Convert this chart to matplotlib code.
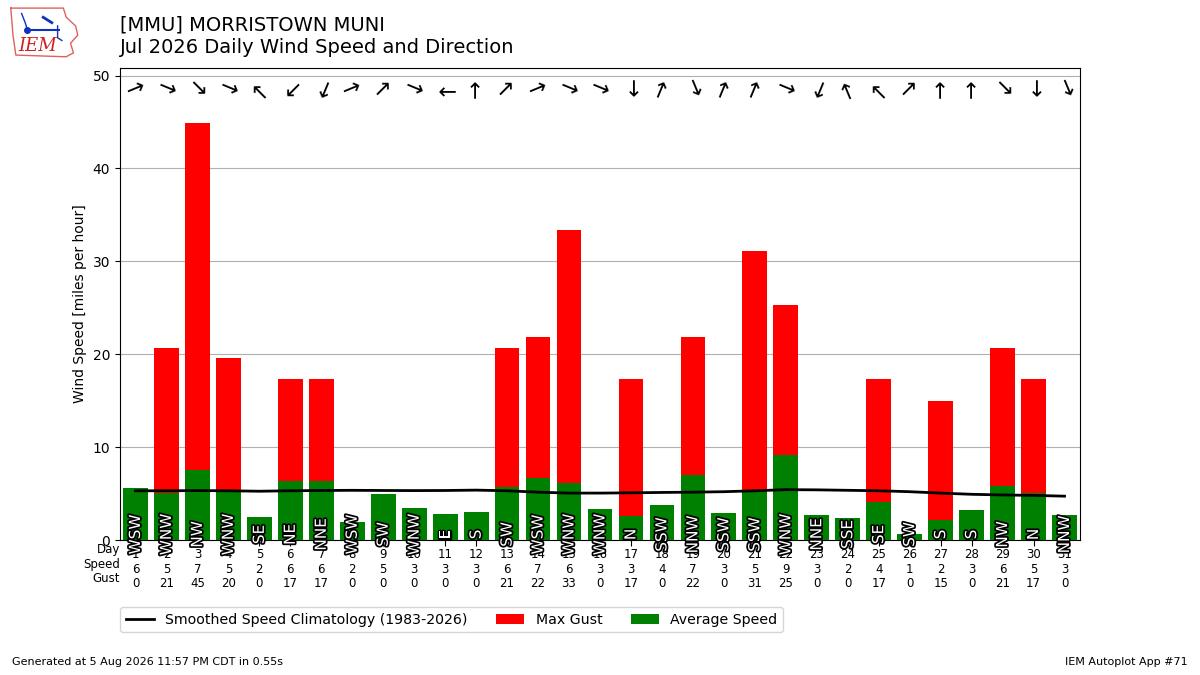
import matplotlib
matplotlib.use("Agg")
from matplotlib import pyplot as plt
from matplotlib import patheffects
import numpy as np

# daily values for July 2026 at MMU
days = list(range(1, 32))
avg_speed = [5.6, 5.1, 7.55, 5.3, 2.5, 6.3, 6.3, 1.9, 4.95, 3.4, 2.8, 3.0, 5.7, 6.7, 6.15,
             3.3, 2.6, 3.8, 7.0, 2.9, 5.2, 9.1, 2.7, 2.35, 4.1, 0.65, 2.2, 3.2, 5.85, 5.05, 2.7]
speed_labels = [6, 5, 7, 5, 2, 6, 6, 2, 5, 3, 3, 3, 6, 7, 6,
                3, 3, 4, 7, 3, 5, 9, 3, 2, 4, 1, 2, 3, 6, 5, 3]
max_gust = [0, 20.7, 44.9, 19.6, 0, 17.3, 17.3, 0, 0, 0, 0, 0, 20.7, 21.9, 33.4,
            0, 17.3, 0, 21.9, 0, 31.1, 25.3, 0, 0, 17.3, 0, 15.0, 0, 20.7, 17.3, 0]
directions = ["WSW", "WNW", "NW", "WNW", "SE", "NE", "NNE", "WSW", "SW", "WNW", "E", "S",
              "SW", "WSW", "WNW", "WNW", "N", "SSW", "NNW", "SSW", "SSW", "WNW", "NNE",
              "SSE", "SE", "SW", "S", "S", "NW", "N", "NNW"]
climo = [5.3, 5.3, 5.32, 5.3, 5.25, 5.3, 5.33, 5.35, 5.33, 5.32, 5.33, 5.37, 5.3, 5.15,
         5.05, 5.05, 5.08, 5.12, 5.15, 5.2, 5.3, 5.42, 5.4, 5.35, 5.3, 5.2, 5.05, 4.92,
         4.85, 4.8, 4.72]

compass = ["N", "NNE", "NE", "ENE", "E", "ESE", "SE", "SSE",
           "S", "SSW", "SW", "WSW", "W", "WNW", "NW", "NNW"]

fig = plt.figure(figsize=(12, 6.75), dpi=100)
ax = fig.add_axes([0.1, 0.2, 0.8, 0.699])

ax.bar(days, max_gust, width=0.8, color="r", label="Max Gust", zorder=2)
ax.bar(days, avg_speed, width=0.8, color="g", label="Average Speed", zorder=3)
ax.plot(days, climo, color="k", lw=2, zorder=4,
        label="Smoothed Speed Climatology (1983-2026)")

outline = [patheffects.withStroke(linewidth=2.5, foreground="k")]
for d, name in zip(days, directions):
    ax.text(d, 0.6, name, rotation=90, ha="center", va="center", color="white",
            fontsize=11, path_effects=outline, zorder=5)
    # arrow shows where the wind blows toward
    deg = compass.index(name) * 22.5
    ang = 90 - (deg + 180)
    ax.text(d, 48.6, "\u2192", rotation=ang, rotation_mode="anchor", ha="center",
            va="center", fontsize=16, zorder=5)

ax.set_xlim(0.5, 31.5)
ax.set_ylim(0, 50.8)
ax.set_yticks(range(0, 51, 10))
ax.grid(axis="y", zorder=0)
ax.set_axisbelow(True)
ax.set_ylabel("Wind Speed [miles per hour]")
ax.set_xticks(days)
ax.set_xticklabels([f"{d}\n{s}\n{g:.0f}" for d, s, g in zip(days, speed_labels, max_gust)],
                   fontsize=8.5, linespacing=1.15)
ax.tick_params(axis="x", length=4, pad=2)
fig.text(0.1, 0.2 - 0.0045, "Day\nSpeed\nGust", ha="right", va="top", fontsize=8.5,
         linespacing=1.15)

ax.legend(loc="upper left", bbox_to_anchor=(0.0, -0.142), ncol=3, fontsize=10.2,
          borderaxespad=0)

fig.text(0.1, 0.977, "[MMU] MORRISTOWN MUNI\nJul 2026 Daily Wind Speed and Direction",
         ha="left", va="top", fontsize=14, linespacing=1.2)
fig.text(0.01, 0.015, "Generated at 5 Aug 2026 11:57 PM CDT in 0.55s", fontsize=8)
fig.text(0.99, 0.015, "IEM Autoplot App #71", fontsize=8, ha="right")

# small logo
lax = fig.add_axes([0.006, 0.912, 0.06, 0.08])
iowa_x = [0.05, 0.78, 0.82, 0.95, 0.98, 0.88, 0.92, 0.82, 0.78, 0.12, 0.08, 0.05]
iowa_y = [0.95, 0.95, 0.78, 0.62, 0.45, 0.30, 0.12, 0.05, 0.05, 0.08, 0.45, 0.95]
lax.plot(iowa_x, iowa_y, color="#e06060", lw=1)
lax.plot([0.28, 0.72], [0.55, 0.55], color="#1030c0", lw=1.5)
lax.plot([0.28], [0.55], "o", color="#1030c0", ms=4)
lax.plot([0.2, 0.25, 0.28], [0.85, 0.68, 0.55], color="#1030c0", lw=1)
lax.plot([0.5, 0.62], [0.78, 0.68], color="#1030c0", lw=2)
lax.plot([0.7, 0.7, 0.76], [0.62, 0.4, 0.35], color="#1030c0", lw=1)
lax.text(0.42, 0.25, "IEM", color="#d02020", fontsize=13, family="serif",
         style="italic", ha="center", va="center")
lax.set_xlim(0, 1)
lax.set_ylim(0, 1)
lax.axis("off")

fig.savefig("out.png", dpi=100)
